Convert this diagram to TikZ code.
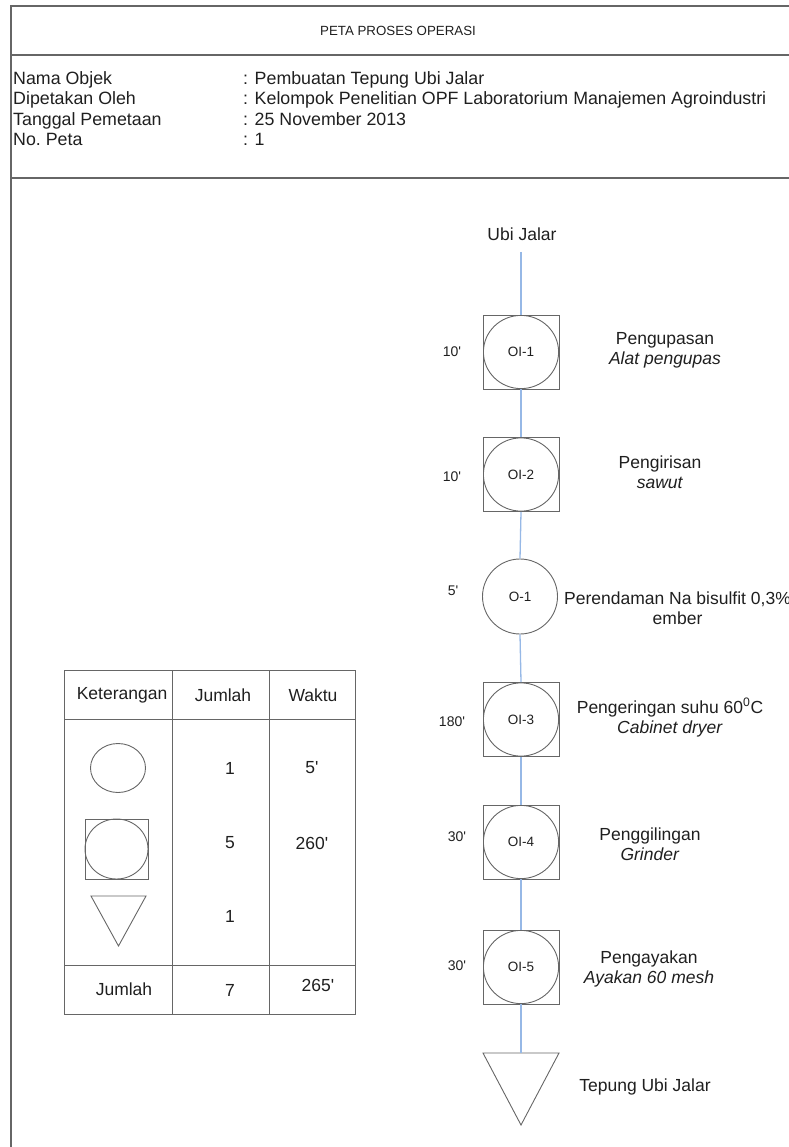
\documentclass[tikz,border=0pt]{standalone}
\usepackage{fontspec}
\newfontfamily\arialfont{Liberation Sans}
\begin{document}
\begin{tikzpicture}[x=1pt,y=-1pt,
  every node/.style={font=\arialfont, text=black!88, inner sep=0pt},
  frameline/.style={draw=black!60, line width=1.1pt},
  gridline/.style={draw=black!60, line width=0.9pt},
  shapeline/.style={draw=black!60, line width=0.9pt},
  flow/.style={draw={rgb,255:red,150;green,184;blue,230}, line width=1.3pt},
  opbox/.style={shapeline, rectangle, minimum width=76pt, minimum height=74pt,
    font=\arialfont\fontsize{13.5}{15}\selectfont,
    path picture={\draw[black!60, line width=0.9pt] (path picture bounding box.center) ellipse (37.6pt and 36.6pt);}},
  timelbl/.style={font=\arialfont\fontsize{14}{16}\selectfont},
  desc/.style={font=\arialfont\fontsize{17.5}{20}\selectfont, align=center},
  hdr/.style={font=\arialfont\fontsize{17.8}{20}\selectfont, anchor=base west},
  cell/.style={font=\arialfont\fontsize{17.5}{20}\selectfont}
]
\useasboundingbox (0,0) rectangle (788,1147);

% page frame and header rules
\draw[frameline] (11,1147) -- (11,6) -- (800,6);
\draw[frameline] (11,55) -- (800,55);
\draw[frameline] (11,178) -- (800,178);

\node[font=\arialfont\fontsize{13.3}{15}\selectfont] (title) at (398,31) {PETA PROSES OPERASI};

\node[hdr] (k1) at (13,84.5)  {Nama Objek};
\node[hdr] (k2) at (13,105)   {Dipetakan Oleh};
\node[hdr] (k3) at (13,125.5) {Tanggal Pemetaan};
\node[hdr] (k4) at (13,146)   {No.\ Peta};
\node[hdr] (v1) at (243,84.5)  {: Pembuatan Tepung Ubi Jalar};
\node[hdr] (v2) at (243,105)   {: Kelompok Penelitian OPF Laboratorium Manajemen Agroindustri};
\node[hdr] (v3) at (243,125.5) {: 25 November 2013};
\node[hdr] (v4) at (243,146)   {: 1};

% process chart
\node[desc] (bahan) at (522,234) {Ubi Jalar};
\coordinate (start) at (521,252);

\node[opbox] (oi1) at (521,352)   {OI-1};
\node[opbox] (oi2) at (521,474.5) {OI-2};
\node[draw=black!60, line width=0.9pt, circle, minimum size=75pt,
      font=\arialfont\fontsize{13.5}{15}\selectfont] (o1) at (520,596.5) {O-1};
\node[opbox] (oi3) at (521,719.5) {OI-3};
\node[opbox] (oi4) at (521,842)   {OI-4};
\node[opbox] (oi5) at (521,967)   {OI-5};
\coordinate (tritop) at (521,1053);
\draw[shapeline] (483,1053) -- (559,1053) -- (521,1125) -- cycle;

\draw[flow] (start) -- (oi1.north);
\draw[flow] (oi1.south) -- (oi2.north);
\draw[flow] (oi2.south) -- (o1.north);
\draw[flow] (o1.south) -- (oi3.north);
\draw[flow] (oi3.south) -- (oi4.north);
\draw[flow] (oi4.south) -- (oi5.north);
\draw[flow] (oi5.south) -- (tritop);

% durations
\node[timelbl] (t1) at (452,352) {10'};
\node[timelbl] (t2) at (452,477) {10'};
\node[timelbl] (t3) at (453,591) {5'};
\node[timelbl] (t4) at (452,722) {180'};
\node[timelbl] (t5) at (457,837) {30'};
\node[timelbl] (t6) at (457,966) {30'};

% step descriptions
\node[desc] (d1) at (665,350) {Pengupasan\\\textit{Alat pengupas}};
\node[desc] (d2) at (660,472) {Pengirisan\\\textit{sawut}};
\node[desc, anchor=west] (d3) at (564,608) {Perendaman Na bisulfit 0,3\%\\ember};
\node[desc] (d4) at (670,717.5) {Pengeringan suhu 60\textsuperscript{0}C\\\textit{Cabinet dryer}};
\node[desc] (d5) at (650,844) {Penggilingan\\\textit{Grinder}};
\node[desc] (d6) at (649,969) {Pengayakan\\\textit{Ayakan 60 mesh}};
\node[desc] (d7) at (645,1087) {Tepung Ubi Jalar};

% summary table
\draw[gridline] (64,670) rectangle (355,1014);
\draw[gridline] (172,670) -- (172,1014);
\draw[gridline] (269,670) -- (269,1014);
\draw[gridline] (64,719) -- (355,719);
\draw[gridline] (64,965) -- (355,965);

\node[cell] (h1) at (122,695) {Keterangan};
\node[cell] (h2) at (223,695) {Jumlah};
\node[cell] (h3) at (313,695) {Waktu};

\draw[shapeline] (118,768) ellipse (27.5pt and 24.5pt);
\draw[shapeline] (85,819) rectangle (148,879);
\draw[shapeline] (116.5,849) ellipse (31.5pt and 30pt);
\draw[shapeline] (91,896) -- (146,896) -- (118.5,946) -- cycle;

\node[cell] (n1) at (230,768) {1};
\node[cell] (w1) at (312,768) {5'};
\node[cell] (n2) at (230,843) {5};
\node[cell] (w2) at (312,843) {260'};
\node[cell] (n3) at (230,916) {1};
\node[cell] (tot) at (124,989) {Jumlah};
\node[cell] (ntot) at (230,990) {7};
\node[cell] (wtot) at (318,985) {265'};
\end{tikzpicture}
\end{document}
